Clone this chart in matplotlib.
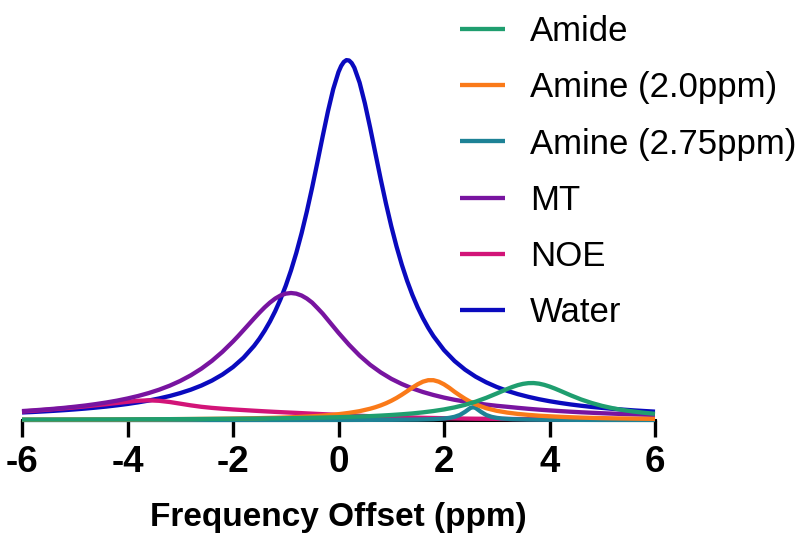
import matplotlib
matplotlib.use("Agg")
import matplotlib.pyplot as plt

plt.rcParams['font.family'] = ['Liberation Sans', 'DejaVu Sans']

# frequency offsets (ppm) and signal (a.u.),
# sampled more finely around each peak
ppm_water = [-6.0, -5.8, -5.6, -5.4, -5.2, -5.0, -4.8, -4.6, -4.4, -4.2, -4.0, -3.8, -3.6, -3.4,
             -3.2, -3.0, -2.8, -2.6, -2.4, -2.2, -2.0, -1.8, -1.6,
             -1.5, -1.4, -1.3, -1.2, -1.1, -1.0, -0.9, -0.8, -0.7, -0.6, -0.5, -0.4, -0.3, -0.2,
             -0.1, 0.0, 0.05, 0.1, 0.15, 0.2, 0.25, 0.3, 0.4, 0.5, 0.6, 0.7, 0.8, 0.9, 1.0, 1.1,
             1.2, 1.3, 1.4, 1.5, 1.6, 1.7, 1.8,
             2.0, 2.2, 2.4, 2.6, 2.8, 3.0, 3.2, 3.4, 3.6, 3.8, 4.0, 4.2, 4.4, 4.6, 4.8, 5.0, 5.2,
             5.4, 5.6, 5.8, 6.0]
water = [1.88, 2.00, 2.14, 2.29, 2.46, 2.65, 2.86, 3.10, 3.36, 3.67, 4.01, 4.41, 4.86, 5.39,
         6.00, 6.73, 7.58, 8.61, 9.85, 11.37, 13.24, 15.58, 18.54,
         20.31, 22.33, 24.61, 27.21, 30.18, 33.57, 37.42, 41.78, 46.68, 52.14, 58.09, 64.43, 70.91,
         77.17, 82.72, 87.00, 88.50, 89.50, 89.97, 89.88, 89.24, 88.08, 84.35, 79.16, 73.08,
         66.63, 60.21, 54.11, 48.47, 43.38, 38.84, 34.82, 31.28, 28.18, 25.46, 23.07, 20.97,
         17.48, 14.75, 12.58, 10.83, 9.42, 8.25, 7.28, 6.47, 5.79, 5.20, 4.70, 4.27, 3.89, 3.56,
         3.27, 3.02, 2.79, 2.59, 2.40, 2.24, 2.09]

ppm_mt = [-6.0, -5.8, -5.6, -5.4, -5.2, -5.0, -4.8, -4.6, -4.4, -4.2, -4.0, -3.8, -3.6, -3.4,
          -3.2, -3.0, -2.8, -2.6, -2.4, -2.2, -2.0,
          -1.9, -1.8, -1.7, -1.6, -1.5, -1.4, -1.3, -1.2, -1.1, -1.0, -0.9, -0.8, -0.7, -0.6,
          -0.5, -0.4, -0.3, -0.2,
          0.0, 0.2, 0.4, 0.6, 0.8, 1.0, 1.2, 1.4, 1.6, 1.8, 2.0, 2.2, 2.4, 2.6, 2.8, 3.0, 3.2,
          3.4, 3.6, 3.8, 4.0, 4.2, 4.4, 4.6, 4.8, 5.0, 5.2, 5.4, 5.6, 5.8, 6.0]
mt = [2.23, 2.40, 2.59, 2.80, 3.04, 3.32, 3.62, 3.98, 4.38, 4.84, 5.38, 6.00, 6.73, 7.58, 8.58,
      9.77, 11.17, 12.83, 14.78, 17.05, 19.63,
      21.02, 22.47, 23.93, 25.40, 26.82, 28.16, 29.35, 30.36, 31.12, 31.59, 31.75, 31.59, 31.12,
      30.36, 29.35, 28.00, 26.60, 25.00,
      21.80, 18.80, 16.10, 13.80, 11.90, 10.30, 9.00, 7.90, 7.00, 6.25, 5.60, 5.05, 4.60, 4.20,
      3.85, 3.55, 3.30, 3.04, 2.80, 2.59, 2.40, 2.23, 2.07, 1.93, 1.81, 1.69, 1.59, 1.49, 1.41,
      1.33, 1.26]

ppm_noe = [-6.0, -5.8, -5.6, -5.4, -5.2, -5.0, -4.8, -4.6, -4.4, -4.2, -4.0, -3.8, -3.6, -3.4,
           -3.2, -3.0, -2.8, -2.6, -2.4, -2.2, -2.0, -1.8, -1.6, -1.4, -1.2, -1.0, -0.8, -0.6,
           -0.4, -0.2, 0.0, 0.2, 0.4, 0.6, 0.8, 1.0, 1.2, 1.4, 1.6, 1.8, 2.0, 2.2, 2.4, 2.6, 2.8,
           3.0, 3.2, 3.4, 3.6, 3.8, 4.0, 4.2, 4.4, 4.6, 4.8, 5.0, 5.2, 5.4, 5.6, 5.8, 6.0]
noe = [2.12, 2.30, 2.50, 2.70, 2.92, 3.15, 3.40, 3.68, 3.95, 4.25, 4.55, 4.80, 4.92, 4.80, 4.50,
       4.08, 3.66, 3.30, 3.03, 2.82, 2.64, 2.48, 2.32, 2.17, 2.03, 1.90, 1.78, 1.65, 1.52, 1.40,
       1.28, 1.15, 1.05, 0.95, 0.85, 0.78, 0.70, 0.62, 0.55, 0.50, 0.45, 0.40, 0.35, 0.32, 0.30,
       0.28, 0.25, 0.24, 0.22, 0.21, 0.20, 0.19, 0.18, 0.16, 0.15, 0.14, 0.13, 0.13, 0.12, 0.12,
       0.11]

ppm_amine20 = [-6.0, -5.8, -5.6, -5.4, -5.2, -5.0, -4.8, -4.6, -4.4, -4.2, -4.0, -3.8, -3.6,
               -3.4, -3.2, -3.0, -2.8, -2.6, -2.4, -2.2, -2.0, -1.8, -1.6, -1.4, -1.2, -1.0,
               -0.8, -0.6, -0.4, -0.2, 0.0, 0.2, 0.4, 0.6,
               0.7, 0.8, 0.9, 1.0, 1.1, 1.2, 1.3, 1.4, 1.5, 1.6, 1.7, 1.8, 1.9, 2.0, 2.1, 2.2,
               2.3, 2.4, 2.5, 2.6,
               2.8, 3.0, 3.2, 3.4, 3.6, 3.8, 4.0, 4.2, 4.4, 4.6, 4.8, 5.0, 5.2, 5.4, 5.6, 5.8, 6.0]
amine20 = [0.09, 0.09, 0.10, 0.10, 0.11, 0.11, 0.12, 0.13, 0.14, 0.14, 0.15, 0.17, 0.18, 0.19,
           0.21, 0.23, 0.24, 0.27, 0.29, 0.32, 0.36, 0.40, 0.44, 0.50, 0.56, 0.64, 0.74, 0.86,
           1.01, 1.20, 1.45, 1.78, 2.21, 2.82,
           3.20, 3.65, 4.18, 4.80, 5.51, 6.32, 7.19, 8.09, 8.92, 9.58, 9.95, 9.95, 9.58, 8.92,
           8.05, 7.05, 6.15, 5.30, 4.55, 3.90,
           2.95, 2.30, 1.85, 1.52, 1.28, 1.08, 0.93, 0.80, 0.69, 0.60, 0.53, 0.47, 0.42, 0.38,
           0.34, 0.31, 0.28]

ppm_amide = [-6.0, -5.8, -5.6, -5.4, -5.2, -5.0, -4.8, -4.6, -4.4, -4.2, -4.0, -3.8, -3.6, -3.4,
             -3.2, -3.0, -2.8, -2.6, -2.4, -2.2, -2.0, -1.8, -1.6, -1.4, -1.2, -1.0, -0.8, -0.6,
             -0.4, -0.2, 0.0, 0.2, 0.4, 0.6, 0.8, 1.0, 1.2, 1.4, 1.6, 1.8, 2.0, 2.2, 2.4, 2.6,
             2.8, 3.0,
             3.1, 3.2, 3.3, 3.4, 3.5, 3.6, 3.7, 3.8, 3.9, 4.0, 4.1,
             4.2, 4.4, 4.6, 4.8, 5.0, 5.2, 5.4, 5.6, 5.8, 6.0]
amide = [0.11, 0.11, 0.12, 0.12, 0.13, 0.13, 0.14, 0.15, 0.15, 0.16, 0.17, 0.18, 0.19, 0.20, 0.21,
         0.22, 0.24, 0.25, 0.27, 0.29, 0.31, 0.33, 0.35, 0.38, 0.41, 0.45, 0.49, 0.53, 0.58, 0.64,
         0.70, 0.78, 0.87, 0.97, 1.10, 1.25, 1.43, 1.64, 1.91, 2.24, 2.64, 3.15, 3.79, 4.58, 5.54,
         6.63,
         7.20, 7.76, 8.28, 8.72, 9.04, 9.22, 9.24, 9.09, 8.79, 8.37, 7.87,
         7.32, 6.18, 5.13, 4.25, 3.52, 2.94, 2.47, 2.10, 1.80, 1.55]

ppm_amine275 = [-6, -4, -2, 0, 1.0, 1.5, 1.8, 2.0, 2.1, 2.2, 2.3, 2.4, 2.5, 2.55, 2.6, 2.7, 2.8,
                2.9, 3.0, 3.1, 3.3, 3.6, 4.0, 5.0, 6.0]
amine275 = [0.002, 0.003, 0.006, 0.02, 0.05, 0.11, 0.21, 0.37, 0.53, 0.79, 1.25, 2.05, 3.01,
            3.20, 3.01, 2.05, 1.25, 0.79, 0.53, 0.37, 0.21, 0.11, 0.06, 0.02, 0.01]

labels = ['Amide', 'Amine (2.0ppm)', 'Amine (2.75ppm)', 'MT', 'NOE', 'Water']
colors = ['#1f9e6f', '#fa7a19', '#1e8296', '#7814a0', '#d21478', '#0a0abe']
series = [(ppm_amide, amide), (ppm_amine20, amine20), (ppm_amine275, amine275),
          (ppm_mt, mt), (ppm_noe, noe), (ppm_water, water)]

fig = plt.figure(figsize=(8, 5.34), dpi=100)
ax = fig.add_axes([22 / 800, 114 / 534, 633 / 800, 400 / 534])

handles = [None] * len(series)
# first data set sits on top, so draw back to front
for i in reversed(range(len(series))):
    xs, ys = series[i]
    h, = ax.plot(xs, ys, color=colors[i], lw=3.1, label=labels[i], clip_on=False,
                 solid_capstyle='butt', solid_joinstyle='round',
                 zorder=3 + (len(series) - i) * 0.1)
    handles[i] = h

ax.set_xlim(-6, 6)
ax.set_ylim(0, 100)
ax.set_xticks([-6, -4, -2, 0, 2, 4, 6])
ax.set_xticklabels(['-6', '-4', '-2', '0', '2', '4', '6'], fontweight='bold', fontsize=26.5)
ax.set_yticks([])
for s in ['left', 'top', 'right']:
    ax.spines[s].set_visible(False)
ax.spines['bottom'].set_linewidth(2.2)
ax.tick_params(axis='x', direction='out', length=12, width=2.4, pad=6)
ax.set_xlabel('Frequency Offset (ppm)', fontsize=24, fontweight='bold', labelpad=16)

fig.legend(handles=handles, labels=labels, loc='upper left',
           bbox_to_anchor=(460 / 800, 1 - 15 / 534), frameon=False, fontsize=25,
           handlelength=1.3, handletextpad=0.72, labelspacing=0.67, borderpad=0,
           borderaxespad=0)

fig.savefig('out.png', dpi=100)
